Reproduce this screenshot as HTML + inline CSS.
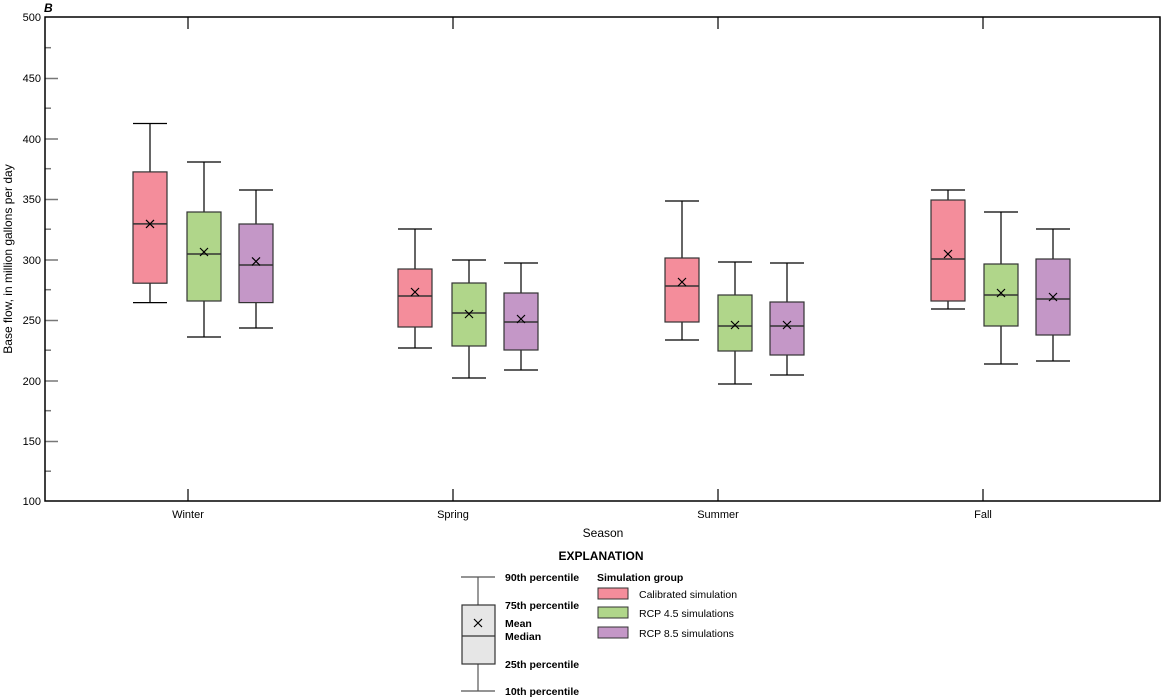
<!DOCTYPE html>
<html><head><meta charset="utf-8"><style>
body{margin:0;background:#fff}
svg{display:block;font-family:"Liberation Sans",sans-serif}
</style></head><body>
<svg width="1162" height="700" viewBox="0 0 1162 700">
<g stroke="#777" stroke-width="1.5">
<line x1="45" y1="78.5" x2="58" y2="78.5"/><line x1="45" y1="139" x2="58" y2="139"/><line x1="45" y1="199.5" x2="58" y2="199.5"/><line x1="45" y1="260" x2="58" y2="260"/><line x1="45" y1="320.5" x2="58" y2="320.5"/><line x1="45" y1="381" x2="58" y2="381"/><line x1="45" y1="441.5" x2="58" y2="441.5"/>
<line x1="45" y1="47.7" x2="51" y2="47.7"/><line x1="45" y1="108.2" x2="51" y2="108.2"/><line x1="45" y1="168.7" x2="51" y2="168.7"/><line x1="45" y1="229.2" x2="51" y2="229.2"/><line x1="45" y1="289.7" x2="51" y2="289.7"/><line x1="45" y1="350.2" x2="51" y2="350.2"/><line x1="45" y1="410.7" x2="51" y2="410.7"/><line x1="45" y1="471.2" x2="51" y2="471.2"/>
</g>
<g stroke="#000" stroke-width="1.2">
<line x1="188" y1="17" x2="188" y2="29"/><line x1="453" y1="17" x2="453" y2="29"/><line x1="718" y1="17" x2="718" y2="29"/><line x1="983" y1="17" x2="983" y2="29"/>
<line x1="188" y1="501" x2="188" y2="489"/><line x1="453" y1="501" x2="453" y2="489"/><line x1="718" y1="501" x2="718" y2="489"/><line x1="983" y1="501" x2="983" y2="489"/>
</g>
<rect x="45" y="17" width="1115" height="484" fill="none" stroke="#000" stroke-width="1.5"/>
<g font-size="11" text-anchor="end" fill="#000">
<text x="41" y="21">500</text><text x="41" y="82">450</text><text x="41" y="143">400</text><text x="41" y="203">350</text><text x="41" y="264">300</text><text x="41" y="324">250</text><text x="41" y="385">200</text><text x="41" y="445">150</text><text x="41" y="505">100</text>
</g>
<text x="44" y="12" font-size="12" font-weight="bold" font-style="italic">B</text>
<text transform="translate(12,259) rotate(-90)" font-size="12" text-anchor="middle">Base flow, in million gallons per day</text>
<g font-size="11" text-anchor="middle">
<text x="188" y="518">Winter</text><text x="453" y="518">Spring</text><text x="718" y="518">Summer</text><text x="983" y="518">Fall</text>
</g>
<text x="603" y="537" font-size="12" text-anchor="middle">Season</text>

<g stroke-width="1.2" fill="none">
<g stroke="#000">
<path d="M150 123.5V302.6M133 123.5H167M133 302.6H167"/>
<path d="M204 162V337M187 162H221M187 337H221"/>
<path d="M256 190V328M239 190H273M239 328H273"/>
<path d="M415 229V348M398 229H432M398 348H432"/>
<path d="M469 260V378M452 260H486M452 378H486"/>
<path d="M521 263V370M504 263H538M504 370H538"/>
<path d="M682 201V340M665 201H699M665 340H699"/>
<path d="M735 262V384M718 262H752M718 384H752"/>
<path d="M787 263V375M770 263H804M770 375H804"/>
<path d="M948 190V309M931 190H965M931 309H965"/>
<path d="M1001 212V364M984 212H1018M984 364H1018"/>
<path d="M1053 229V361M1036 229H1070M1036 361H1070"/>
</g>
<g stroke="#333">
<rect x="133" y="171.9" width="34" height="111.3" fill="#f48d9b"/>
<rect x="187" y="212" width="34" height="89" fill="#b0d68a"/>
<rect x="239" y="224" width="34" height="78.6" fill="#c497c7"/>
<rect x="398" y="269" width="34" height="58" fill="#f48d9b"/>
<rect x="452" y="283" width="34" height="63" fill="#b0d68a"/>
<rect x="504" y="293" width="34" height="57" fill="#c497c7"/>
<rect x="665" y="258" width="34" height="64" fill="#f48d9b"/>
<rect x="718" y="295" width="34" height="56" fill="#b0d68a"/>
<rect x="770" y="302" width="34" height="53" fill="#c497c7"/>
<rect x="931" y="200" width="34" height="101" fill="#f48d9b"/>
<rect x="984" y="264" width="34" height="62" fill="#b0d68a"/>
<rect x="1036" y="259" width="34" height="76" fill="#c497c7"/>
<path stroke-width="1.5" d="M133 223.9H167M187 254H221M239 265H273M398 296H432M452 313H486M504 322H538M665 286H699M718 326H752M770 326H804M931 259H965M984 295H1018M1036 299H1070"/>
</g>
<path stroke="#000" d="M146 219.9l8 8m0-8l-8 8M200 248l8 8m0-8l-8 8M252 257.4l8 8m0-8l-8 8M411 288l8 8m0-8l-8 8M465 310l8 8m0-8l-8 8M517 315l8 8m0-8l-8 8M678 278l8 8m0-8l-8 8M731 321l8 8m0-8l-8 8M783 321l8 8m0-8l-8 8M944 250l8 8m0-8l-8 8M997 289l8 8m0-8l-8 8M1049 293l8 8m0-8l-8 8"/>
</g>

<text x="601" y="560" font-size="12" font-weight="bold" text-anchor="middle">EXPLANATION</text>
<g stroke-width="1.2">
<line x1="478" y1="577" x2="478" y2="691" stroke="#555"/>
<line x1="461" y1="577" x2="495" y2="577" stroke="#555"/>
<line x1="461" y1="691" x2="495" y2="691" stroke="#555"/>
<rect x="462" y="605" width="33" height="59" fill="#e6e6e6" stroke="#333"/>
<line x1="462" y1="636" x2="495" y2="636" stroke="#333"/>
<path d="M474 619L482 627M482 619L474 627" stroke="#000"/>
</g>
<g font-size="10.5" font-weight="bold">
<text x="505" y="581">90th percentile</text><text x="505" y="609">75th percentile</text><text x="505" y="627">Mean</text><text x="505" y="640">Median</text><text x="505" y="668">25th percentile</text><text x="505" y="695">10th percentile</text>
<text x="597" y="581">Simulation group</text>
</g>
<rect x="598" y="588" width="30" height="11" fill="#f48d9b" stroke="#333"/>
<rect x="598" y="607" width="30" height="11" fill="#b0d68a" stroke="#333"/>
<rect x="598" y="627" width="30" height="11" fill="#c497c7" stroke="#333"/>
<g font-size="10.5">
<text x="639" y="598">Calibrated simulation</text><text x="639" y="617">RCP 4.5 simulations</text><text x="639" y="637">RCP 8.5 simulations</text>
</g>
</svg>
</body></html>
